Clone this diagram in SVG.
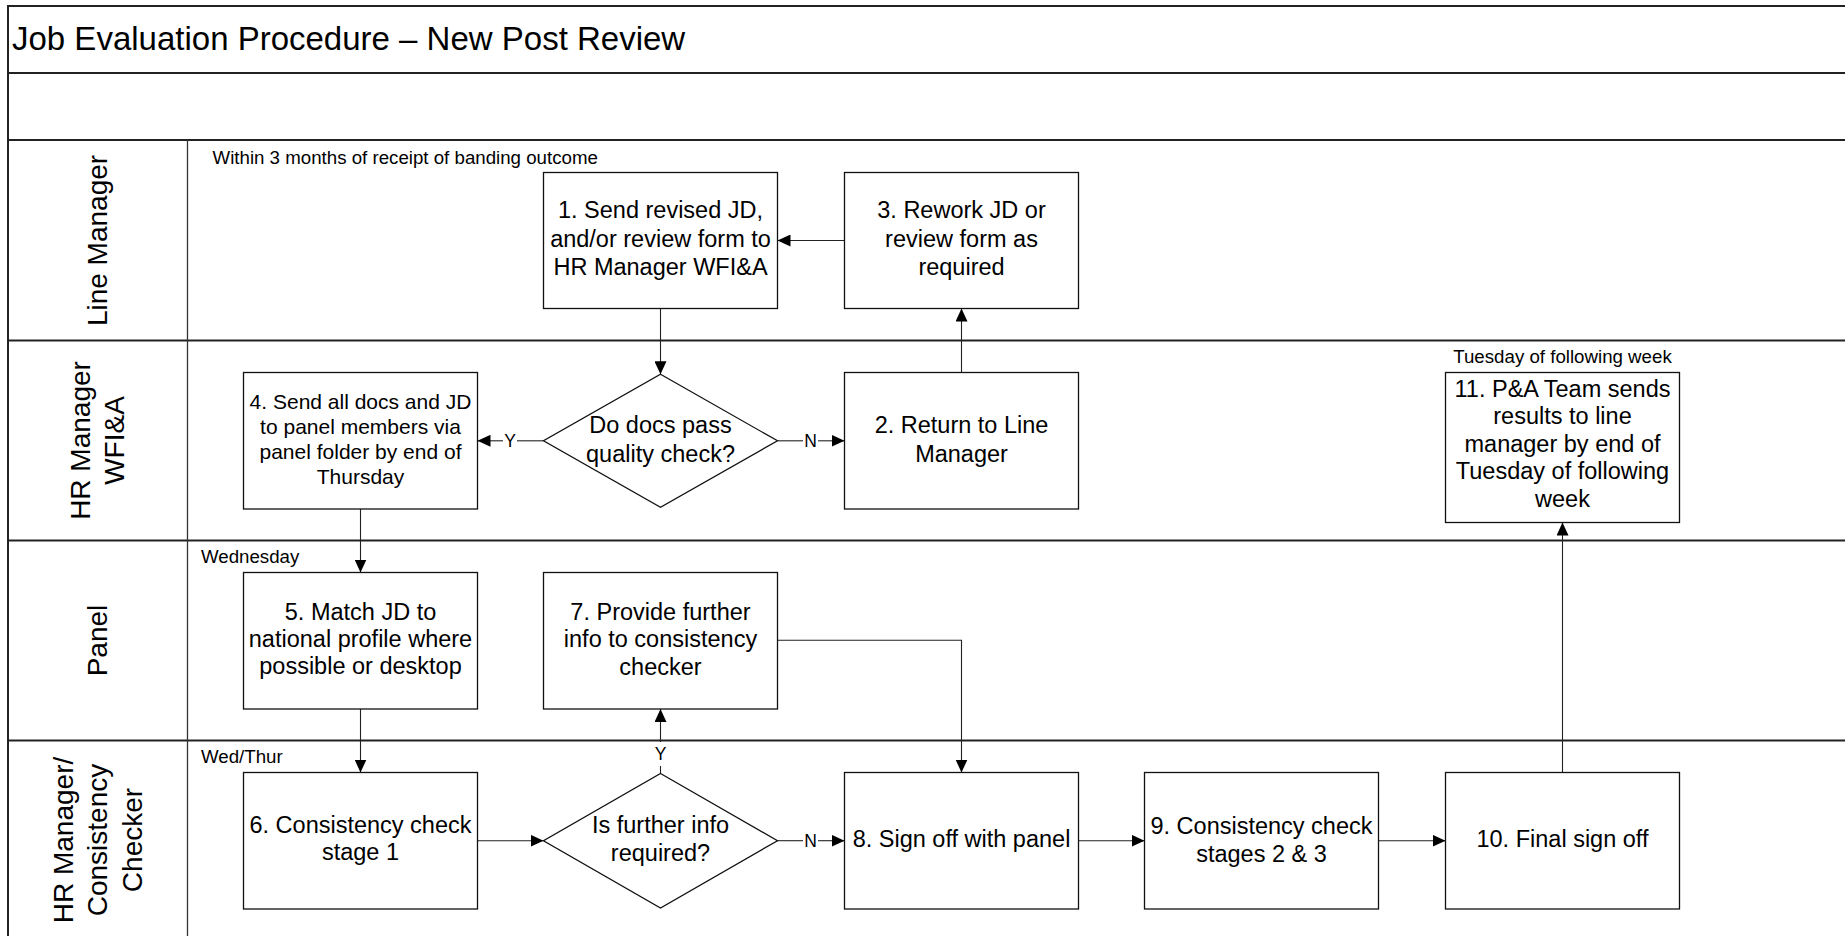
<svg xmlns="http://www.w3.org/2000/svg" width="1845" height="936" viewBox="0 0 1845 936">
<style>
text{font-family:"Liberation Sans",Arial,Helvetica,sans-serif;fill:#000}
.box{fill:#fff;stroke:#111;stroke-width:1.3}
.lane{stroke:#222;stroke-width:2;fill:none}
.col{stroke:#333;stroke-width:1.3;fill:none}
.t{font-size:23.5px;text-anchor:middle}
.t4{font-size:21px;text-anchor:middle}
.lt{font-size:28px;text-anchor:middle}
.sm{font-size:18.7px}
.yn{font-size:17.5px;text-anchor:middle}
.c{stroke:#222;stroke-width:1.1;fill:none}
.ca{stroke:#222;stroke-width:1.1;fill:none;marker-end:url(#arr)}
</style>
<defs>
<marker id="arr" markerUnits="userSpaceOnUse" markerWidth="14" markerHeight="12" refX="13" refY="6" orient="auto"><path d="M0,0 L13,6 L0,12 z" fill="#000"/></marker>
</defs>
<rect width="1845" height="936" fill="#fff"/>
<g id="pool">
<rect x="8" y="6" width="1850" height="945" class="lane"/>
<line x1="8" y1="73" x2="1850" y2="73" class="lane"/>
<line x1="8" y1="140" x2="1850" y2="140" class="lane"/>
<line x1="8" y1="340.5" x2="1850" y2="340.5" class="lane"/>
<line x1="8" y1="540.5" x2="1850" y2="540.5" class="lane"/>
<line x1="8" y1="740.5" x2="1850" y2="740.5" class="lane"/>
<line x1="187.5" y1="140" x2="187.5" y2="945" class="col"/>
<text x="12" y="50" style="font-size:33px">Job Evaluation Procedure – New Post Review</text>
</g>
<g id="lane-line-manager"><text class="lt" transform="translate(0,240.5) rotate(-90)"><tspan x="0" y="106.5">Line Manager</tspan></text></g>
<g id="lane-hr-manager"><text class="lt" transform="translate(0,440.5) rotate(-90)"><tspan x="0" y="89.5">HR Manager</tspan><tspan x="0" y="124">WFI&amp;A</tspan></text></g>
<g id="lane-panel"><text class="lt" transform="translate(0,640.5) rotate(-90)"><tspan x="0" y="106.5">Panel</tspan></text></g>
<g id="lane-checker"><text class="lt" transform="translate(0,840) rotate(-90)"><tspan x="0" y="72.5">HR Manager/</tspan><tspan x="0" y="107">Consistency</tspan><tspan x="0" y="141.5">Checker</tspan></text></g>
<g id="notes">
<text class="sm" x="212.5" y="163.5">Within 3 months of receipt of banding outcome</text>
<text class="sm" x="201" y="563.3">Wednesday</text>
<text class="sm" x="201" y="763">Wed/Thur</text>
<text class="sm" x="1562.5" y="363.3" text-anchor="middle">Tuesday of following week</text>
</g>
<g id="connectors">
<line x1="844.5" y1="240.5" x2="777.5" y2="240.5" class="ca"/>
<line x1="660.5" y1="308.5" x2="660.5" y2="374.3" class="ca"/>
<line x1="777.5" y1="440.8" x2="803" y2="440.8" class="c"/>
<line x1="818" y1="440.8" x2="844.5" y2="440.8" class="ca"/>
<text class="yn" x="810.5" y="446.8">N</text>
<line x1="543.5" y1="440.8" x2="517" y2="440.8" class="c"/>
<line x1="503" y1="440.8" x2="477.5" y2="440.8" class="ca"/>
<text class="yn" x="510" y="446.8">Y</text>
<line x1="961.5" y1="372.5" x2="961.5" y2="308.5" class="ca"/>
<line x1="360.5" y1="509" x2="360.5" y2="572.5" class="ca"/>
<line x1="360.5" y1="709" x2="360.5" y2="772.5" class="ca"/>
<line x1="477.5" y1="840.7" x2="543.5" y2="840.7" class="ca"/>
<line x1="660.5" y1="773.5" x2="660.5" y2="766" class="c"/>
<line x1="660.5" y1="742" x2="660.5" y2="709" class="ca"/>
<text class="yn" x="660.5" y="760">Y</text>
<line x1="777.5" y1="840.7" x2="803" y2="840.7" class="c"/>
<line x1="818" y1="840.7" x2="844.5" y2="840.7" class="ca"/>
<text class="yn" x="810.5" y="846.7">N</text>
<polyline points="777.5,640.3 961.5,640.3 961.5,772.5" class="ca"/>
<line x1="1078.5" y1="840.7" x2="1144.5" y2="840.7" class="ca"/>
<line x1="1378.5" y1="840.7" x2="1445.5" y2="840.7" class="ca"/>
<line x1="1562.5" y1="772.5" x2="1562.5" y2="522.5" class="ca"/>
</g>
<g id="n1"><rect class="box" x="543.5" y="172.5" width="234" height="136"/><text class="t"><tspan x="660.5" y="218.3">1. Send revised JD,</tspan><tspan x="660.5" y="246.7">and/or review form to</tspan><tspan x="660.5" y="275">HR Manager WFI&amp;A</tspan></text></g>
<g id="n3"><rect class="box" x="844.5" y="172.5" width="234" height="136"/><text class="t"><tspan x="961.5" y="218.3">3. Rework JD or</tspan><tspan x="961.5" y="246.7">review form as</tspan><tspan x="961.5" y="275">required</tspan></text></g>
<g id="d1"><polygon class="box" points="660.5,374.3 777.5,440.8 660.5,507.3 543.5,440.8"/><text class="t"><tspan x="660.5" y="433.3">Do docs pass</tspan><tspan x="660.5" y="461.7">quality check?</tspan></text></g>
<g id="n2"><rect class="box" x="844.5" y="372.5" width="234" height="136.5"/><text class="t"><tspan x="961.5" y="433.3">2. Return to Line</tspan><tspan x="961.5" y="461.7">Manager</tspan></text></g>
<g id="n4"><rect class="box" x="243.5" y="372.5" width="234" height="136.5"/><text class="t4"><tspan x="360.5" y="409">4. Send all docs and JD</tspan><tspan x="360.5" y="434">to panel members via</tspan><tspan x="360.5" y="459">panel folder by end of</tspan><tspan x="360.5" y="484">Thursday</tspan></text></g>
<g id="n11"><rect class="box" x="1445.5" y="372.5" width="234" height="150"/><text class="t"><tspan x="1562.5" y="396.7">11. P&amp;A Team sends</tspan><tspan x="1562.5" y="424.3">results to line</tspan><tspan x="1562.5" y="451.7">manager by end of</tspan><tspan x="1562.5" y="479">Tuesday of following</tspan><tspan x="1562.5" y="506.7">week</tspan></text></g>
<g id="n5"><rect class="box" x="243.5" y="572.5" width="234" height="136.5"/><text class="t"><tspan x="360.5" y="620">5. Match JD to</tspan><tspan x="360.5" y="647">national profile where</tspan><tspan x="360.5" y="674.3">possible or desktop</tspan></text></g>
<g id="n7"><rect class="box" x="543.5" y="572.5" width="234" height="136.5"/><text class="t"><tspan x="660.5" y="620">7. Provide further</tspan><tspan x="660.5" y="647.3">info to consistency</tspan><tspan x="660.5" y="675">checker</tspan></text></g>
<g id="n6"><rect class="box" x="243.5" y="772.5" width="234" height="136.5"/><text class="t"><tspan x="360.5" y="833.3">6. Consistency check</tspan><tspan x="360.5" y="860">stage 1</tspan></text></g>
<g id="d2"><polygon class="box" points="660.5,773.5 777.5,840.7 660.5,908 543.5,840.7"/><text class="t"><tspan x="660.5" y="833.3">Is further info</tspan><tspan x="660.5" y="861">required?</tspan></text></g>
<g id="n8"><rect class="box" x="844.5" y="772.5" width="234" height="136.5"/><text class="t"><tspan x="961.5" y="846.7">8. Sign off with panel</tspan></text></g>
<g id="n9"><rect class="box" x="1144.5" y="772.5" width="234" height="136.5"/><text class="t"><tspan x="1261.5" y="834">9. Consistency check</tspan><tspan x="1261.5" y="861.7">stages 2 &amp; 3</tspan></text></g>
<g id="n10"><rect class="box" x="1445.5" y="772.5" width="234" height="136.5"/><text class="t"><tspan x="1562.5" y="847.3">10. Final sign off</tspan></text></g>
</svg>
